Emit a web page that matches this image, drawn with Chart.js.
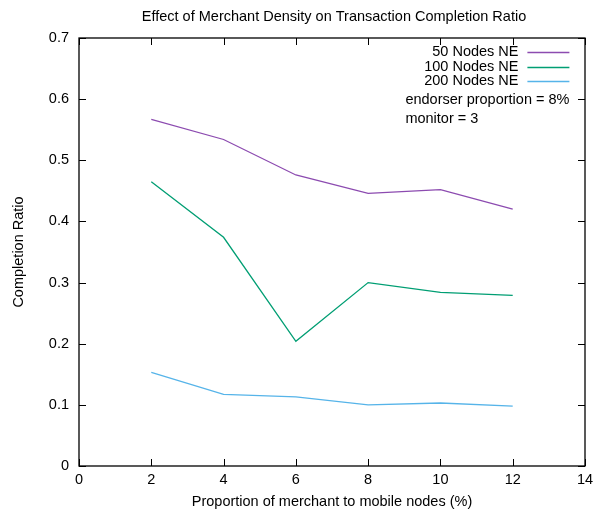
<!DOCTYPE html>
<html>
<head>
<meta charset="utf-8">
<script src="https://cdn.jsdelivr.net/npm/chart.js@4"></script>
<style>
  html, body { margin: 0; padding: 0; background: #fff; }
  #wrap { width: 605px; height: 511px; position: relative; }
</style>
</head>
<body>
<div id="wrap"><canvas id="c" width="605" height="511"></canvas></div>
<script>
const chartTitle = "Effect of Merchant Density on Transaction Completion Ratio";
const xTitle = "Proportion of merchant to mobile nodes (%)";
const yTitle = "Completion Ratio";
const xValues = [2, 4, 6, 8, 10, 12];
const seriesNames = ["50 Nodes NE", "100 Nodes NE", "200 Nodes NE"];
const nodes50 = [0.567, 0.534, 0.476, 0.446, 0.452, 0.420];
const nodes100 = [0.465, 0.374, 0.204, 0.300, 0.284, 0.279];
const nodes200 = [0.153, 0.117, 0.113, 0.100, 0.103, 0.098];
const seriesColors = ["#8c4bb0", "#009e73", "#56b4e9"];
const annotations = ["endorser proportion = 8%", "monitor = 3"];
const xTicks = [0, 2, 4, 6, 8, 10, 12, 14];
const yTicks = [0, 0.1, 0.2, 0.3, 0.4, 0.5, 0.6, 0.7];

const FONT = "'Liberation Sans', Arial, sans-serif";
const FS = 14.5;
const seriesValues = [nodes50, nodes100, nodes200];

const datasets = seriesValues.map((vals, i) => ({
  label: seriesNames[i],
  data: xValues.map((x, j) => ({ x: x, y: vals[j] })),
  borderColor: seriesColors[i],
  backgroundColor: seriesColors[i],
  borderWidth: 1.3,
  pointRadius: 0,
  tension: 0,
  fill: false
}));

const framePlugin = {
  id: 'frame',
  afterDatasetsDraw(chart) {
    const ctx = chart.ctx;
    const a = chart.chartArea;
    const xs = chart.scales.x, ys = chart.scales.y;
    const tl = 7;
    ctx.save();
    ctx.strokeStyle = '#000';
    ctx.lineWidth = 1;
    ctx.beginPath();
    xTicks.forEach(v => {
      const px = Math.round(xs.getPixelForValue(v)) + 0.5;
      ctx.moveTo(px, a.bottom); ctx.lineTo(px, a.bottom - tl);
      ctx.moveTo(px, a.top); ctx.lineTo(px, a.top + tl);
    });
    yTicks.forEach(v => {
      const py = Math.round(ys.getPixelForValue(v)) + 0.5;
      ctx.moveTo(a.left, py); ctx.lineTo(a.left + tl, py);
      ctx.moveTo(a.right, py); ctx.lineTo(a.right - tl, py);
    });
    ctx.stroke();
    ctx.lineWidth = 1.3;
    ctx.strokeRect(a.left, a.top, a.right - a.left, a.bottom - a.top);

    ctx.font = FS + "px " + FONT;
    ctx.fillStyle = '#000';
    ctx.textBaseline = 'middle';

    // title
    ctx.textAlign = 'center';
    ctx.fillText(chartTitle, (a.left + a.right) / 2 + 2, 16.5);

    // legend
    ctx.textAlign = 'right';
    const textRight = a.right - 66.5;
    const lineL = a.right - 57.6, lineR = a.right - 15.6;
    chart.data.datasets.forEach((ds, i) => {
      const y = a.top + 14 + i * 14.5;
      ctx.fillText(ds.label, textRight, y);
      ctx.strokeStyle = ds.borderColor;
      ctx.lineWidth = 1.3;
      ctx.beginPath();
      ctx.moveTo(lineL, Math.round(y) + 0.5);
      ctx.lineTo(lineR, Math.round(y) + 0.5);
      ctx.stroke();
    });
    ctx.textAlign = 'left';
    annotations.forEach((t, i) => {
      ctx.fillText(t, a.right - 179.6, a.top + 62 + i * 18.5);
    });
    ctx.restore();
  }
};

new Chart(document.getElementById('c'), {
  type: 'line',
  data: { datasets: datasets },
  plugins: [framePlugin],
  options: {
    responsive: false,
    animation: false,
    devicePixelRatio: 1,
    layout: { padding: { left: 10, right: 20, top: 38, bottom: 0 } },
    plugins: {
      legend: { display: false },
      tooltip: { enabled: false },
      title: { display: false }
    },
    scales: {
      x: {
        type: 'linear',
        min: 0, max: 14,
        afterFit(s) { s.height = 45; },
        afterBuildTicks(s) { s.ticks = xTicks.map(v => ({ value: v })); },
        grid: { display: false, drawTicks: false },
        border: { display: false },
        ticks: {
          color: '#000',
          font: { family: FONT, size: FS },
          padding: 5,
          maxRotation: 0,
          callback: v => String(v)
        },
        title: {
          display: true,
          text: xTitle,
          color: '#000',
          font: { family: FONT, size: FS },
          padding: { top: 4, bottom: 0 }
        }
      },
      y: {
        type: 'linear',
        min: 0, max: 0.7,
        afterFit(s) { s.width = 69; },
        afterBuildTicks(s) { s.ticks = yTicks.map(v => ({ value: v })); },
        grid: { display: false, drawTicks: false },
        border: { display: false },
        ticks: {
          color: '#000',
          font: { family: FONT, size: FS },
          padding: 10,
          callback: v => (Math.round(v * 10) / 10).toString()
        },
        title: {
          display: true,
          text: yTitle,
          color: '#000',
          font: { family: FONT, size: FS },
          padding: { top: 0, bottom: 0 }
        }
      }
    }
  }
});
</script>
</body>
</html>
